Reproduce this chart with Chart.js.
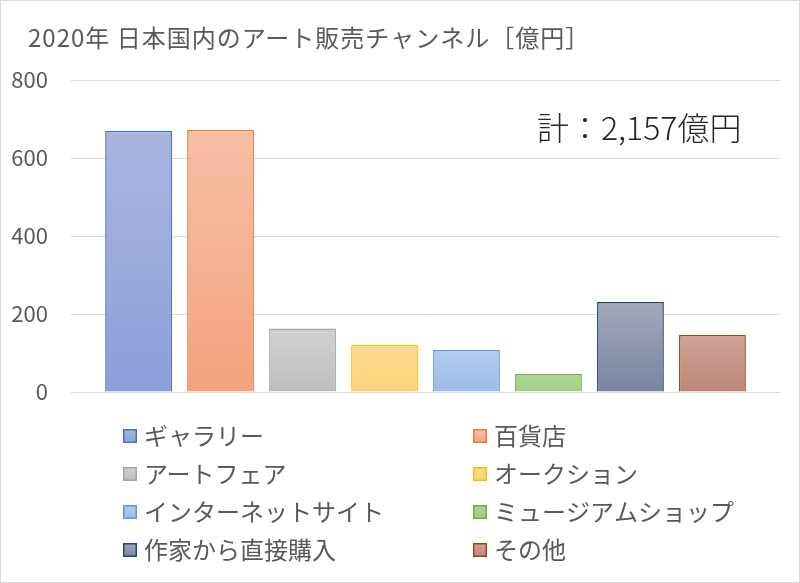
<!DOCTYPE html>
<html lang="ja">
<head>
<meta charset="utf-8" />
<title>2020年 日本国内のアート販売チャンネル</title>
<script src="https://cdn.jsdelivr.net/npm/chart.js@4/dist/chart.umd.min.js"></script>
<style>
  html, body { margin: 0; padding: 0; background: #fff; }
  #wrap { width: 800px; height: 583px; position: relative; }
</style>
</head>
<body>
<div id="wrap"><canvas id="chart"></canvas></div>
<script>
const chartTitle = "2020年 日本国内のアート販売チャンネル［億円］";
const totalLabel = "計：2,157億円";
const channels = [
  "ギャラリー",
  "百貨店",
  "アートフェア",
  "オークション",
  "インターネットサイト",
  "ミュージアムショップ",
  "作家から直接購入",
  "その他",
];
// sales per channel, 億円
const sales = [670, 672, 163, 121, 108, 46, 231, 146];
const yMin = 0;
const yMax = 800;
const yStep = 200;

// excel-like palette: border, gradient top, gradient bottom
const borderColors = ["#4472C4", "#ED7D31", "#A5A5A5", "#FFC000", "#5B9BD5", "#70AD47", "#264478", "#9E480E"];
const topColors = ["#A9B7DF", "#F6C0A6", "#D2D2D2", "#FFDC94", "#B2CCEC", "#AED596", "#A4A9BD", "#CDA497"];
const bottomColors = ["#8B9EDA", "#F4A27E", "#BDBDBD", "#FFD27A", "#9CBCE6", "#A2CE85", "#79829F", "#BD8678"];

const textColor = "#595959";
const jpFont = '"Noto Sans CJK JP", "Noto Sans", sans-serif';

/*
 * vertical gradient for one bar, from its top down to the zero line.
 */
const barFill = (i) => (ctx) => {
  const chart = ctx.chart;
  if (!chart.chartArea || ctx.type !== "data") {
    return topColors[i];
  }
  const y = chart.scales.y;
  const yTop = y.getPixelForValue(sales[i]);
  const yBase = y.getPixelForValue(0);
  const g = chart.ctx.createLinearGradient(0, yTop, 0, yBase);
  g.addColorStop(0, topColors[i]);
  g.addColorStop(1, bottomColors[i]);
  return g;
};

/*
 * draws the title, the total note, the two column legend and the frame.
 */
const decorations = {
  id: "decorations",
  afterDraw(chart) {
    const ctx = chart.ctx;
    ctx.save();
    // frame
    ctx.strokeStyle = "#D9D9D9";
    ctx.lineWidth = 1;
    ctx.strokeRect(0.5, 0.5, chart.width - 1, chart.height - 1);

    // title
    ctx.fillStyle = textColor;
    ctx.font = `24px ${jpFont}`;
    ctx.letterSpacing = "1px";
    ctx.textAlign = "left";
    ctx.textBaseline = "middle";
    ctx.fillText(chartTitle, 28, 38);
    ctx.letterSpacing = "0px";

    // total
    ctx.fillStyle = "#262626";
    ctx.font = `300 32px ${jpFont}`;
    ctx.fillText(totalLabel, 537, 128);

    // legend, two columns
    const colX = [123, 473];
    const rowY = [436, 474, 512, 550];
    const box = 14;
    ctx.font = `24px ${jpFont}`;
    chart.data.datasets.forEach((ds, i) => {
      const x = colX[i % 2];
      const y = rowY[Math.floor(i / 2)];
      const g = ctx.createLinearGradient(0, y - box / 2, 0, y + box / 2);
      g.addColorStop(0, topColors[i]);
      g.addColorStop(1, bottomColors[i]);
      ctx.fillStyle = g;
      ctx.fillRect(x, y - box / 2, box, box);
      ctx.strokeStyle = borderColors[i];
      ctx.lineWidth = 1.5;
      ctx.strokeRect(x + 0.75, y - box / 2 + 0.75, box - 1.5, box - 1.5);
      ctx.fillStyle = textColor;
      ctx.fillText(ds.label, x + box + 7, y);
    });
    ctx.restore();
  },
};

const datasets = channels.map((name, i) => ({
  label: name,
  data: [sales[i]],
  backgroundColor: barFill(i),
  borderColor: borderColors[i],
  borderWidth: 1.5,
  categoryPercentage: 0.925,
  barPercentage: 0.815,
}));

const chart = new Chart(document.getElementById("chart"), {
  type: "bar",
  data: {
    labels: [""],
    datasets,
  },
  options: {
    responsive: true,
    maintainAspectRatio: false,
    animation: false,
    layout: {
      padding: { top: 80, bottom: 191, left: 0, right: 20 },
    },
    plugins: {
      legend: { display: false },
      title: { display: false },
      tooltip: { enabled: false },
    },
    scales: {
      x: {
        display: false,
      },
      y: {
        min: yMin,
        max: yMax,
        afterFit: (scale) => {
          scale.width = 71;
        },
        border: { display: false },
        grid: {
          color: "#D9D9D9",
          lineWidth: 1,
          drawTicks: false,
        },
        ticks: {
          stepSize: yStep,
          padding: 23,
          color: textColor,
          font: { size: 22, family: jpFont },
        },
      },
    },
  },
  plugins: [decorations],
});
</script>
</body>
</html>
